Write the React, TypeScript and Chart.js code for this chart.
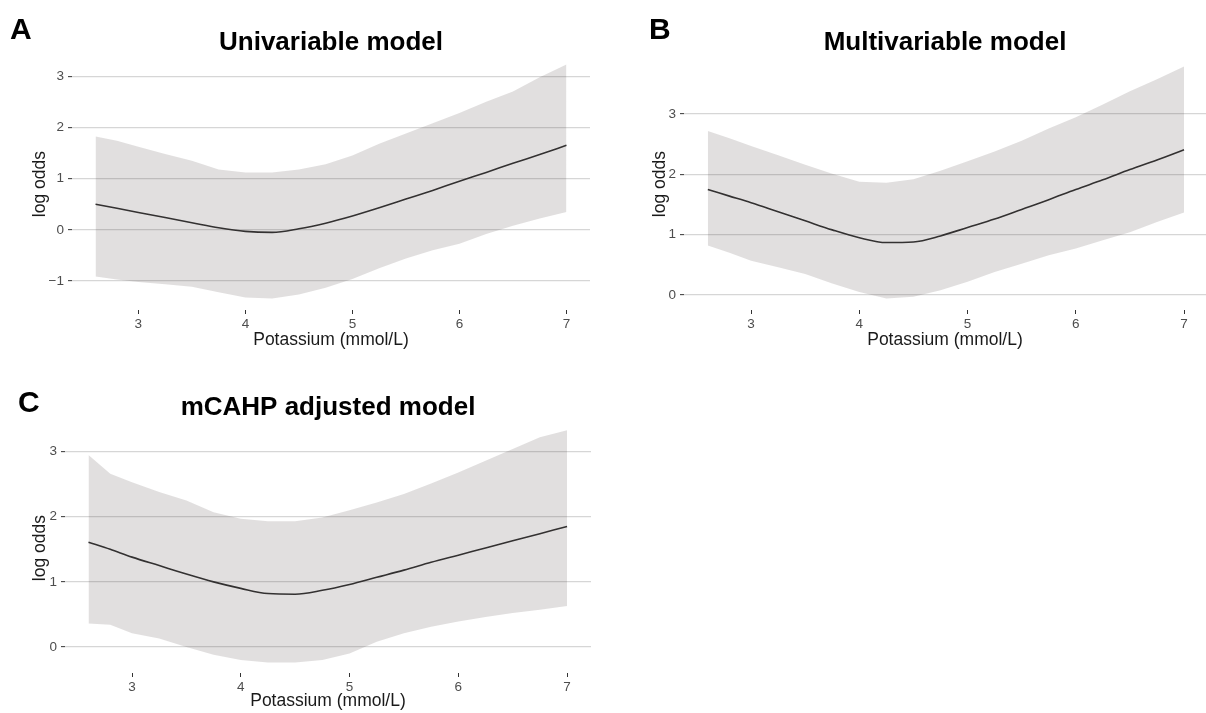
import React, { useEffect, useRef } from "react";
import { Chart, registerables } from "chart.js";

Chart.register(...registerables);

const FONT = "'Liberation Sans', Arial, Helvetica, sans-serif";

// ---- data ----
const potassium = [2.6, 2.8, 3, 3.25, 3.5, 3.75, 4, 4.25, 4.5, 4.75, 5, 5.25, 5.5, 5.75, 6, 6.25, 6.5, 6.75, 7];

const uniFit = [0.5, 0.42, 0.34, 0.24, 0.14, 0.04, -0.03, -0.05, 0.02, 0.13, 0.27, 0.43, 0.6, 0.77, 0.95, 1.12, 1.3, 1.47, 1.65];
const uniUpper = [1.82, 1.74, 1.62, 1.48, 1.35, 1.18, 1.12, 1.12, 1.18, 1.28, 1.45, 1.68, 1.88, 2.08, 2.28, 2.5, 2.7, 2.98, 3.23];
const uniLower = [-0.91, -0.97, -1.02, -1.06, -1.11, -1.22, -1.32, -1.34, -1.26, -1.13, -0.96, -0.75, -0.56, -0.4, -0.27, -0.08, 0.08, 0.22, 0.35];

const multiFit = [1.75, 1.64, 1.53, 1.38, 1.23, 1.08, 0.95, 0.87, 0.88, 0.98, 1.12, 1.26, 1.42, 1.58, 1.75, 1.91, 2.08, 2.24, 2.41];
const multiUpper = [2.72, 2.6, 2.47, 2.32, 2.16, 2.01, 1.88, 1.86, 1.92, 2.06, 2.22, 2.38, 2.56, 2.76, 2.95, 3.16, 3.38, 3.58, 3.79];
const multiLower = [0.82, 0.7, 0.57, 0.46, 0.35, 0.19, 0.05, -0.06, -0.03, 0.08, 0.22, 0.38, 0.52, 0.66, 0.77, 0.91, 1.04, 1.21, 1.37];

const mcahpFit = [1.61, 1.5, 1.38, 1.25, 1.12, 1.0, 0.9, 0.82, 0.81, 0.87, 0.96, 1.07, 1.18, 1.3, 1.41, 1.52, 1.63, 1.74, 1.85];
const mcahpUpper = [2.95, 2.66, 2.53, 2.38, 2.25, 2.07, 1.97, 1.93, 1.93, 1.99, 2.1, 2.22, 2.35, 2.51, 2.68, 2.86, 3.04, 3.22, 3.33];
const mcahpLower = [0.36, 0.34, 0.21, 0.13, 0.0, -0.12, -0.2, -0.24, -0.24, -0.2, -0.1, 0.08, 0.21, 0.31, 0.39, 0.46, 0.52, 0.57, 0.63];

const xTicks = [3, 4, 5, 6, 7];
const uniYTicks = [-1, 0, 1, 2, 3];
const multiYTicks = [0, 1, 2, 3];
const mcahpYTicks = [0, 1, 2, 3];

const uniTitle = "Univariable model";
const multiTitle = "Multivariable model";
const mcahpTitle = "mCAHP adjusted model";
const xTitle = "Potassium (mmol/L)";
const yTitle = "log odds";

// ---- styling ----
const BAND = "rgba(51, 40, 40, 0.15)";
const GRID = "#d6d6d6";
const TICK = "#333333";
const TICK_LABEL = "#4d4d4d";

const pts = (ys: number[]) => potassium.map((x, i) => ({ x, y: ys[i] }));
const fmt = (v: number) => (v < 0 ? "\u2212" + Math.abs(v) : String(v));

type PanelSpec = {
  title: string;
  fit: number[];
  upper: number[];
  lower: number[];
  yTicks: number[];
  yMin: number;
  yMax: number;
  xMin: number;
  xMax: number;
  yAxisWidth: number;
  yTitlePad: number;
  xAxisHeight: number;
  titlePadTop: number;
  titlePadBottom: number;
  padRight: number;
};

function makeConfig(p: PanelSpec): any {
  return {
    type: "line",
    data: {
      datasets: [
        {
          data: pts(p.upper),
          borderWidth: 0,
          pointRadius: 0,
          backgroundColor: BAND,
          fill: "+1",
          tension: 0,
        },
        {
          data: pts(p.lower),
          borderWidth: 0,
          pointRadius: 0,
          fill: false,
          tension: 0,
        },
        {
          data: pts(p.fit),
          borderColor: "#333333",
          borderWidth: 1.6,
          pointRadius: 0,
          fill: false,
          cubicInterpolationMode: "monotone",
        },
      ],
    },
    options: {
      responsive: false,
      animation: false,
      events: [],
      layout: { padding: { left: 0, right: p.padRight, top: 0, bottom: 0 } },
      plugins: {
        legend: { display: false },
        tooltip: { enabled: false },
        title: {
          display: true,
          text: p.title,
          fullSize: false,
          color: "#000000",
          font: { family: FONT, size: 26, weight: "bold", lineHeight: 1.2 },
          padding: { top: p.titlePadTop, bottom: p.titlePadBottom },
        },
      },
      scales: {
        x: {
          type: "linear",
          min: p.xMin,
          max: p.xMax,
          afterBuildTicks: (s: any) => {
            s.ticks = xTicks.map((v) => ({ value: v }));
          },
          afterFit: (s: any) => {
            s.height = p.xAxisHeight;
          },
          border: { display: false },
          grid: {
            drawOnChartArea: false,
            drawTicks: true,
            tickLength: 4,
            tickColor: TICK,
            tickWidth: 1,
          },
          ticks: {
            padding: 2,
            color: TICK_LABEL,
            font: { family: FONT, size: 13.5 },
            maxRotation: 0,
            callback: (v: number) => fmt(v),
          },
          title: {
            display: true,
            text: xTitle,
            color: "#1a1a1a",
            font: { family: FONT, size: 17.5 },
            padding: { top: 0, bottom: 0 },
          },
        },
        y: {
          type: "linear",
          min: p.yMin,
          max: p.yMax,
          afterBuildTicks: (s: any) => {
            s.ticks = p.yTicks.map((v) => ({ value: v }));
          },
          afterFit: (s: any) => {
            s.width = p.yAxisWidth;
          },
          border: { display: false },
          grid: {
            color: GRID,
            lineWidth: 1.3,
            drawTicks: true,
            tickLength: 4,
            tickColor: TICK,
            tickWidth: 1,
          },
          ticks: {
            padding: 4,
            color: TICK_LABEL,
            font: { family: FONT, size: 13.5 },
            callback: (v: number) => fmt(v),
          },
          title: {
            display: true,
            text: yTitle,
            color: "#1a1a1a",
            font: { family: FONT, size: 17.5 },
            padding: { top: p.yTitlePad, bottom: 0 },
          },
        },
      },
    },
  };
}

const panelA: PanelSpec = {
  title: uniTitle,
  fit: uniFit,
  upper: uniUpper,
  lower: uniLower,
  yTicks: uniYTicks,
  yMin: -1.565,
  yMax: 3.351,
  xMin: 2.38,
  xMax: 7.22,
  yAxisWidth: 72,
  yTitlePad: 29.5,
  xAxisHeight: 41,
  titlePadTop: 27,
  titlePadBottom: 0,
  padRight: 10,
};

const panelB: PanelSpec = {
  title: multiTitle,
  fit: multiFit,
  upper: multiUpper,
  lower: multiLower,
  yTicks: multiYTicks,
  yMin: -0.249,
  yMax: 3.928,
  xMin: 2.38,
  xMax: 7.203,
  yAxisWidth: 84,
  yTitlePad: 50,
  xAxisHeight: 41,
  titlePadTop: 27,
  titlePadBottom: 0,
  padRight: 0,
};

const panelC: PanelSpec = {
  title: mcahpTitle,
  fit: mcahpFit,
  upper: mcahpUpper,
  lower: mcahpLower,
  yTicks: mcahpYTicks,
  yMin: -0.4,
  yMax: 3.437,
  xMin: 2.384,
  xMax: 7.22,
  yAxisWidth: 65,
  yTitlePad: 29.5,
  xAxisHeight: 39,
  titlePadTop: 37,
  titlePadBottom: 0,
  padRight: 9,
};

function Panel(props: { left: number; top: number; width: number; height: number; spec: PanelSpec }) {
  const ref = useRef<HTMLCanvasElement | null>(null);
  useEffect(() => {
    if (!ref.current) return;
    const chart = new Chart(ref.current, makeConfig(props.spec));
    return () => chart.destroy();
  }, []);
  return (
    <canvas
      ref={ref}
      width={props.width}
      height={props.height}
      style={{ position: "absolute", left: props.left, top: props.top, width: props.width, height: props.height }}
    />
  );
}

const letterStyle = (left: number, top: number): React.CSSProperties => ({
  position: "absolute",
  left,
  top,
  fontFamily: FONT,
  fontWeight: "bold",
  fontSize: 30,
  lineHeight: "30px",
  color: "#000",
});

export default function App() {
  return (
    <div style={{ position: "fixed", left: 0, top: 0, width: 1206, height: 713, background: "#fff", overflow: "hidden" }}>
      <Panel left={0} top={0} width={600} height={351} spec={panelA} />
      <Panel left={600} top={0} width={606} height={351} spec={panelB} />
      <Panel left={0} top={355} width={600} height={357} spec={panelC} />
      <div style={letterStyle(10, 14)}>A</div>
      <div style={letterStyle(649, 14)}>B</div>
      <div style={letterStyle(18, 387)}>C</div>
    </div>
  );
}
